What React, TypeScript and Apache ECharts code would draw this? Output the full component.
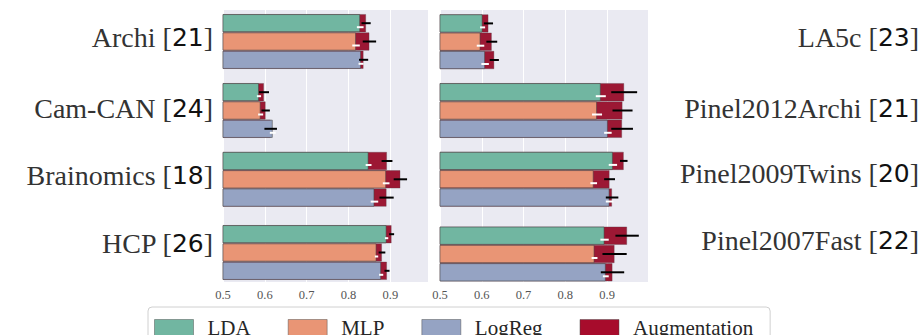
import React, { useEffect, useRef } from "react";
import * as echarts from "echarts";

// ---------- data ----------
const methods = ["LDA", "MLP", "LogReg"];
const leftDatasets = ["Archi", "Cam-CAN", "Brainomics", "HCP"];
const leftCounts = [21, 24, 18, 26];
const rightDatasets = ["LA5c", "Pinel2012Archi", "Pinel2009Twins", "Pinel2007Fast"];
const rightCounts = [23, 21, 20, 22];

// per dataset: [LDA, MLP, LogReg]
const leftBase = [
  [0.828, 0.818, 0.83],
  [0.586, 0.59, 0.619],
  [0.848, 0.89, 0.862],
  [0.891, 0.867, 0.878],
];
const leftBaseStd = [
  [0.008, 0.009, 0.006],
  [0.005, 0.006, 0.007],
  [0.007, 0.008, 0.009],
  [0.004, 0.004, 0.005],
];
const leftAug = [
  [0.842, 0.85, 0.836],
  [0.598, 0.602, 0.614],
  [0.892, 0.924, 0.891],
  [0.903, 0.88, 0.892],
];
const leftAugStd = [
  [0.011, 0.016, 0.011],
  [0.012, 0.01, 0.015],
  [0.013, 0.016, 0.017],
  [0.006, 0.008, 0.006],
];

const rightBase = [
  [0.602, 0.597, 0.608],
  [0.885, 0.876, 0.902],
  [0.914, 0.868, 0.906],
  [0.894, 0.87, 0.897],
];
const rightBaseStd = [
  [0.006, 0.009, 0.009],
  [0.012, 0.012, 0.009],
  [0.01, 0.008, 0.009],
  [0.01, 0.007, 0.007],
];
const rightAug = [
  [0.616, 0.624, 0.63],
  [0.941, 0.937, 0.936],
  [0.94, 0.906, 0.912],
  [0.948, 0.918, 0.913],
];
const rightAugStd = [
  [0.011, 0.013, 0.011],
  [0.031, 0.024, 0.026],
  [0.009, 0.013, 0.015],
  [0.028, 0.029, 0.028],
];

const tickValues = [0.5, 0.6, 0.7, 0.8, 0.9];
const legendNames = ["LDA", "MLP", "LogReg", "Augmentation"];

// ---------- style / layout ----------
const COLORS = ["#71b6a1", "#e99575", "#95a3c3"];
const AUG_COLOR = "#9c1834";
const AUG_LEGEND = "#a70c2c";
const BG = "#eaeaf2";
const BAR_H = 18.3;
const SERIF = "serif";
const SANS = "DejaVu Sans";
const LABEL_SIZE = 28;
const NUM_SIZE = 25;
const LEGEND_TEXT_W = [43, 45, 64, 134];

const panels = [
  {
    left: 223, width: 205, max: 0.99, side: "left", labelMargin: 10,
    centers: [41.5, 110.5, 179.3, 252.5],
    labelY: [37, 108, 175, 243],
    names: leftDatasets, counts: leftCounts,
    base: leftBase, baseStd: leftBaseStd, aug: leftAug, augStd: leftAugStd,
  },
  {
    left: 440, width: 208, max: 0.998, side: "right", labelMargin: 271,
    centers: [41.7, 110.5, 179.2, 254],
    labelY: [37, 108, 173, 240],
    names: rightDatasets, counts: rightCounts,
    base: rightBase, baseStd: rightBaseStd, aug: rightAug, augStd: rightAugStd,
  },
];

function buildOption() {
  const grid: any[] = [];
  const xAxis: any[] = [];
  const yAxis: any[] = [];
  const series: any[] = [];

  // background panels
  panels.forEach((p) => {
    grid.push({
      left: p.left, top: 10, width: p.width, height: 272,
      show: true, backgroundColor: BG, borderWidth: 0, containLabel: false,
    });
    const gi = grid.length - 1;
    xAxis.push({
      type: "value", gridIndex: gi, min: 0.5, max: p.max, interval: 0.1,
      axisLine: { show: false }, axisTick: { show: false },
      axisLabel: {
        showMaxLabel: false, margin: 6, fontSize: 12.5, fontFamily: SERIF, color: "#555",
        formatter: (v: number) => (tickValues.some((t) => Math.abs(t - v) < 1e-6) ? v.toFixed(1) : ""),
      },
      splitLine: { show: true, lineStyle: { color: "#ffffff", width: 1 } },
    });
    yAxis.push({ type: "value", gridIndex: gi, show: false, min: 0, max: 1, splitLine: { show: false } });
  });

  panels.forEach((p) => {
    p.names.forEach((name, d) => {
      grid.push({ left: p.left, top: p.centers[d] - 30, width: p.width, height: 60, show: false });
      const gi = grid.length - 1;
      xAxis.push({ type: "value", gridIndex: gi, min: 0.5, max: p.max, show: false, splitLine: { show: false } });
      const xi = xAxis.length - 1;
      const shift = p.labelY[d] - p.centers[d];
      const count = p.counts[d];
      yAxis.push({
        type: "category", gridIndex: gi, data: [name], position: p.side,
        axisLine: { show: false }, axisTick: { show: false }, splitLine: { show: false },
        axisLabel: {
          show: true, margin: p.labelMargin, align: "right", verticalAlign: "middle",
          fontFamily: SERIF, fontSize: LABEL_SIZE, color: "#333",
          padding: shift < 0 ? [0, 0, -2 * shift, 0] : [2 * shift, 0, 0, 0],
          formatter: () => `{n|${name} [}{d|${count}}{n|]}`,
          rich: {
            n: { fontFamily: SERIF, fontSize: LABEL_SIZE, color: "#333" },
            d: { fontFamily: SANS, fontSize: NUM_SIZE, color: "#111" },
          },
        },
      });
      const yBase = yAxis.length - 1;
      yAxis.push({ type: "category", gridIndex: gi, data: [name], show: false });
      const yAug = yAxis.length - 1;

      methods.forEach((m, mi) => {
        series.push({
          type: "bar", name: "Augmentation", xAxisIndex: xi, yAxisIndex: yAug,
          data: [p.aug[d][mi]], barWidth: BAR_H, barGap: "0%", z: 1,
          itemStyle: { color: AUG_COLOR, borderColor: "rgba(90,60,70,0.45)", borderWidth: 0.8 },
        });
      });
      methods.forEach((m, mi) => {
        series.push({
          type: "bar", name: m, xAxisIndex: xi, yAxisIndex: yBase,
          data: [p.base[d][mi]], barWidth: BAR_H, barGap: "0%", z: 2,
          itemStyle: { color: COLORS[mi], borderColor: "rgba(70,70,70,0.55)", borderWidth: 1 },
        });
      });
      const errData: any[] = [];
      methods.forEach((m, mi) => {
        errData.push([p.base[d][mi], 0, p.baseStd[d][mi], mi, 0]);
        errData.push([p.aug[d][mi], 0, p.augStd[d][mi], mi, 1]);
      });
      series.push({
        type: "custom", name: "err", xAxisIndex: xi, yAxisIndex: yBase, z: 3,
        encode: { x: 0, y: 1 },
        data: errData,
        renderItem: (params: any, api: any) => {
          const v = api.value(0);
          const e = api.value(2);
          const mi = api.value(3);
          const kind = api.value(4);
          const c = api.coord([v, 0]);
          const y = c[1] + (mi - 1) * BAR_H + (kind === 0 ? 4 : 0);
          const p1 = api.coord([v - e, 0]);
          const p2 = api.coord([v + e, 0]);
          return {
            type: "line",
            shape: { x1: p1[0], y1: y, x2: p2[0], y2: y },
            style: { stroke: kind === 1 ? "#000000" : "#ffffff", lineWidth: 2 },
          };
        },
      });
    });
  });

  const legendColors = [COLORS[0], COLORS[1], COLORS[2], AUG_LEGEND];

  return {
    animation: false,
    grid, xAxis, yAxis, series,
    legend: {
      left: 148, top: 307,
      padding: [10.5, 17, 10, 6],
      itemWidth: 39, itemHeight: 17, itemGap: 37,
      icon: "rect",
      borderColor: "#d0d0d0", borderWidth: 1, borderRadius: 4,
      backgroundColor: "#ffffff",
      selectedMode: false,
      textStyle: { fontFamily: SERIF, fontSize: 21, color: "#262626", padding: [0, 0, 0, 9] },
      data: legendNames.map((n, i) => ({
        name: n,
        itemStyle: { color: legendColors[i], borderColor: "rgba(70,70,70,0.45)", borderWidth: 1 },
        textStyle: { width: LEGEND_TEXT_W[i], overflow: "none" },
      })),
    },
  };
}

export default function App() {
  const ref = useRef<HTMLDivElement>(null);
  useEffect(() => {
    if (!ref.current) return;
    const chart = echarts.init(ref.current, null, { renderer: "svg" });
    chart.setOption(buildOption() as any);
    return () => chart.dispose();
  }, []);
  return (
    <div
      ref={ref}
      style={{ position: "fixed", left: 0, top: 0, width: 923, height: 335, background: "#ffffff" }}
    />
  );
}
